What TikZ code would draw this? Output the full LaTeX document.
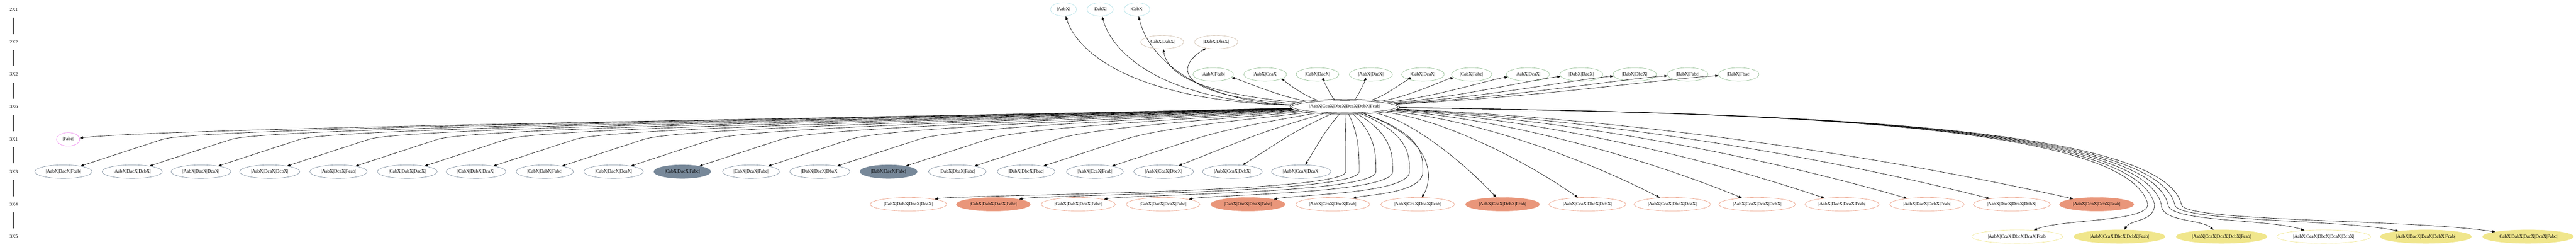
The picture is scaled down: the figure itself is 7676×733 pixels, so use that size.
\documentclass[tikz,border=0pt]{standalone}
\usepackage{fontspec}
\setmainfont{Liberation Serif}
\usetikzlibrary{shapes.geometric,arrows.meta}
\definecolor{cA}{HTML}{B0E0E6}
\definecolor{cB}{HTML}{CDBBA8}
\definecolor{cC}{HTML}{8FBC8F}
\definecolor{cF}{HTML}{EE82EE}
\definecolor{cD}{HTML}{778899}
\definecolor{cE}{HTML}{E9967A}
\definecolor{cG}{HTML}{F0E68C}
\begin{document}
\begin{tikzpicture}[x=1pt,y=-1pt,
  font=\fontsize{14pt}{16pt}\selectfont,
  nd/.style={ellipse, draw, line width=1pt, inner xsep=8pt, inner ysep=3pt, minimum height=40pt, minimum width=60pt},
  rA/.style={nd, draw=cA},
  rB/.style={nd, draw=cB},
  rC/.style={nd, draw=cC},
  rF/.style={nd, draw=cF},
  rD/.style={nd, draw=cD},
  rDf/.style={nd, draw=cD, fill=cD},
  rE/.style={nd, draw=cE},
  rEf/.style={nd, draw=cE, fill=cE},
  rG/.style={nd, draw=cG},
  rGf/.style={nd, draw=cG, fill=cG},
  hubst/.style={nd, draw=black, double, double distance=3pt, outer sep=2.5pt},
  rl/.style={inner sep=0pt, minimum height=48pt},
  rline/.style={draw=black, line width=1pt},
  hedge/.style={draw=black, line width=1pt, -{Triangle[length=10pt,width=7pt]}}]
\useasboundingbox (0,0) rectangle (7676,733);

% rank labels
\foreach \t/\y [count=\i] in {2X1/28,2X2/125,3X2/221,3X6/317,3X1/414,3X3/510,3X4/607,3X5/703}
  \node[rl] (r\i) at (41,\y) {\t};
\foreach \i [evaluate=\i as \j using int(\i+1)] in {1,...,7}
  \draw[rline] (r\i) -- (r\j);

% hub
\node[hubst] (hub) at (4007,317) {|AabX|CcaX|DbcX|DcaX|DcbX|Fcab|};

% rank 2X1
\node[rA] (a1) at (3169,28) {|AabX|};
\node[rA] (a2) at (3278,28) {|DabX|};
\node[rA] (a3) at (3388,28) {|CabX|};
\draw[hedge] (hub) .. controls (3404,300) and (3215,170) .. (a1);
\draw[hedge] (hub) .. controls (3482,300) and (3318,170) .. (a2);
\draw[hedge] (hub) .. controls (3561,300) and (3422,170) .. (a3);

% rank 2X2
\node[rB] (b1) at (3463,125) {|CabX|DabX|};
\node[rB] (b2) at (3624,125) {|DabX|DbaX|};
\draw[hedge] (hub) .. controls (3600,280) and (3480,230) .. (b1);
\draw[hedge] (hub) .. controls (3500,285) and (3500,200) .. (b2);

% rank 3X2
\foreach \lab/\x [count=\i] in {|AabX|Fcab|/3615,|AabX|CcaX|/3770,|CabX|DacX|/3926,|AabX|DacX|/4085,|CabX|DcaX|/4240,|CabX|Fabc|/4385,|AabX|DcaX|/4553,|DabX|DacX|/4712,|DabX|DbcX|/4871,|DabX|Fabc|/5029,|DabX|Fbac|/5181}{
  \node[rC] (c\i) at (\x,221) {\lab};
  \pgfmathsetmacro\ax{4007+0.5*(\x-4007)}
  \pgfmathsetmacro\bx{4007+0.8*(\x-4007)}
  \draw[hedge] (hub) .. controls (\ax,288) and (\bx,235) .. (c\i);
}

% rank 3X1
\node[rF] (f1) at (203,414) {|Fabc|};
\draw[hedge] (hub) .. controls (2734,349) and (520,378) .. (f1);

% rank 3X3
\foreach \lab/\fl [count=\i] in {|AabX|DacX|Fcab|/rD,|AabX|DacX|DcbX|/rD,|AabX|DacX|DcaX|/rD,|AabX|DcaX|DcbX|/rD,|AabX|DcaX|Fcab|/rD,|CabX|DabX|DacX|/rD,|CabX|DabX|DcaX|/rD,|CabX|DabX|Fabc|/rD,|CabX|DacX|DcaX|/rD,|CabX|DacX|Fabc|/rDf,|CabX|DcaX|Fabc|/rD,|DabX|DacX|DbaX|/rD,|DabX|DacX|Fabc|/rDf,|DabX|DbaX|Fabc|/rD,|DabX|DbcX|Fbac|/rD,|AabX|CcaX|Fcab|/rD,|AabX|CcaX|DbcX|/rD,|AabX|CcaX|DcbX|/rD,|AabX|CcaX|DcaX|/rD}{
  \pgfmathsetmacro\tx{189+204.9*(\i-1)}
  \node[\fl] (d\i) at (\tx,510) {\lab};
  \pgfmathsetmacro\off{min(295,0.45*(4007-\tx))}
  \pgfmathsetmacro\vx{\tx+\off}
  \pgfmathsetmacro\dd{4007-\vx}
  \pgfmathsetmacro\L{min(0.3*\dd,120)}
  \pgfmathsetmacro\cax{4007-0.33*\dd}
  \pgfmathsetmacro\cbx{\vx+\L}
  \pgfmathsetmacro\cby{414-\L*96/\off}
  \draw[hedge] (hub) .. controls (\cax,349) and (\cbx,\cby) .. (\vx,414) -- (d\i);
}

% rank 3X4
\foreach \lab/\fl [count=\j] in {|CabX|DabX|DacX|DcaX|/rE,|CabX|DabX|DacX|Fabc|/rEf,|CabX|DabX|DcaX|Fabc|/rE,|CabX|DacX|DcaX|Fabc|/rE,|DabX|DacX|DbaX|Fabc|/rEf,|AabX|CcaX|DbcX|Fcab|/rE,|AabX|CcaX|DcaX|Fcab|/rE,|AabX|CcaX|DcbX|Fcab|/rEf,|AabX|CcaX|DbcX|DcbX|/rE,|AabX|CcaX|DbcX|DcaX|/rE,|AabX|CcaX|DcaX|DcbX|/rE,|AabX|DacX|DcaX|Fcab|/rE,|AabX|DacX|DcbX|Fcab|/rE,|AabX|DacX|DcaX|DcbX|/rE,|AabX|DcaX|DcbX|Fcab|/rEf}{
  \pgfmathsetmacro\tx{2707+252.9*(\j-1)}
  \node[\fl] (e\j) at (\tx,607) {\lab};
}
\foreach \j/\xa/\o in {1/4010/150,2/4050/150,3/4100/150,4/4150/150,5/4200/150,6/4240/100}{
  \pgfmathsetmacro\tx{2707+252.9*(\j-1)}
  \pgfmathsetmacro\cx{\tx+\o}
  \draw[hedge] (hub) .. controls (\xa,400) and (\xa,460) .. (\xa,510) .. controls (\xa,575) and (\cx,578) .. (e\j);
}
\draw[hedge] (hub) .. controls (4290,420) and (4265,540) .. (e7);
\foreach \j in {8,...,15}{
  \pgfmathsetmacro\tx{2707+252.9*(\j-1)}
  \pgfmathsetmacro\ax{4007+0.45*(\tx-4007)}
  \pgfmathsetmacro\bx{4007+0.8*(\tx-4007)}
  \draw[hedge] (hub) .. controls (\ax,360) and (\bx,505) .. (e\j);
}

% rank 3X5
\foreach \lab/\fl [count=\k] in {|AabX|CcaX|DbcX|DcaX|Fcab|/rG,|AabX|CcaX|DbcX|DcbX|Fcab|/rGf,|AabX|CcaX|DcaX|DcbX|Fcab|/rGf,|AabX|CcaX|DbcX|DcaX|DcbX|/rG,|AabX|DacX|DcaX|DcbX|Fcab|/rGf,|CabX|DabX|DacX|DcaX|Fabc|/rGf}{
  \pgfmathsetmacro\tx{6011+304.4*(\k-1)}
  \node[\fl] (g\k) at (\tx,703) {\lab};
  \pgfmathsetmacro\xv{6400+20*(\k-1)}
  \pgfmathsetmacro\cx{\tx+0.35*(\xv-\tx)}
  \pgfmathsetmacro\bx{\xv-60}
  \draw[hedge] (hub) .. controls (5200,335) and (\bx,360) .. (\xv,607) .. controls (\xv,660) and (\cx,650) .. (g\k);
}
\end{tikzpicture}
\end{document}
